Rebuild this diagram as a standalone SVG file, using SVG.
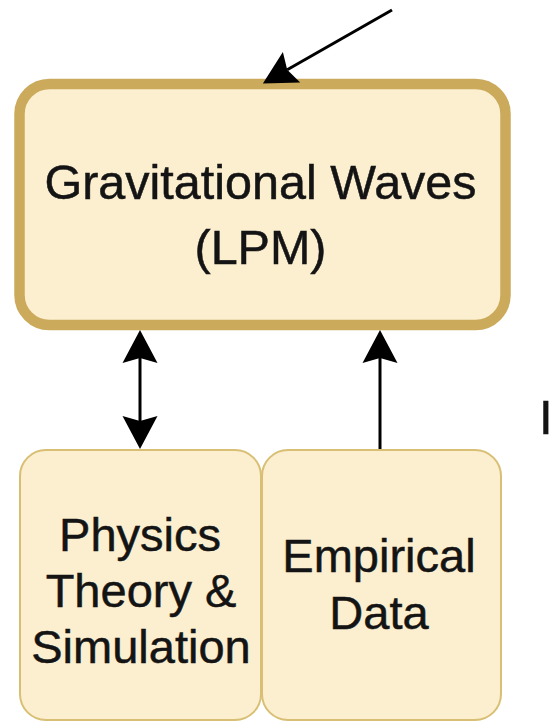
<svg xmlns="http://www.w3.org/2000/svg" width="550" height="724" viewBox="0 0 550 724">
  <style>
    .lbl { font-family: "Liberation Sans", Arial, Helvetica, sans-serif; font-size: 47px; fill: #141414; stroke: #141414; stroke-width: 0.5; text-anchor: middle; }
    .big { font-size: 48.5px; }
    .main { fill: #fcefd0; stroke: #ccaa5c; stroke-width: 10.5; }
    .sub { fill: #fcefd0; stroke: #d8bf74; stroke-width: 2; }
    .edge { stroke: #000; stroke-width: 3; fill: none; }
  </style>
  <defs>
    <marker id="arr" viewBox="-6 -19 36 38" markerWidth="36" markerHeight="38" refX="0" refY="0" markerUnits="userSpaceOnUse" orient="auto-start-reverse">
      <path d="M 28 0 L -5 -17.5 L 0 0 L -5 17.5 Z" fill="#000"/>
    </marker>
  </defs>
  <rect width="550" height="724" fill="#ffffff"/>

  <g id="node-gw">
    <rect class="main" x="19.5" y="84" width="486" height="241" rx="30" ry="30"/>
    <text class="lbl big" x="260.5" y="199">Gravitational Waves</text>
    <text class="lbl big" x="260.5" y="264">(LPM)</text>
  </g>

  <g id="node-physics">
    <rect class="sub" x="20" y="450" width="241" height="270" rx="26" ry="26"/>
    <text class="lbl" x="140" y="551">Physics</text>
    <text class="lbl" x="141" y="607">Theory &amp;</text>
    <text class="lbl" x="141" y="663">Simulation</text>
  </g>

  <g id="node-empirical">
    <rect class="sub" x="262" y="450" width="239" height="270" rx="26" ry="26"/>
    <text class="lbl" x="379" y="572">Empirical</text>
    <text class="lbl" x="379" y="629">Data</text>
  </g>

  <g id="node-partial">
    <text class="lbl" x="539" y="434" style="text-anchor:start;font-size:49px">I</text>
  </g>

  <g id="connectors">
    <line class="edge" x1="392" y1="10" x2="287.2" y2="69.7" marker-end="url(#arr)"/>
    <line class="edge" x1="140" y1="358" x2="140" y2="421" marker-start="url(#arr)" marker-end="url(#arr)"/>
    <line class="edge" x1="380" y1="449" x2="380" y2="358" marker-end="url(#arr)"/>
  </g>
</svg>
